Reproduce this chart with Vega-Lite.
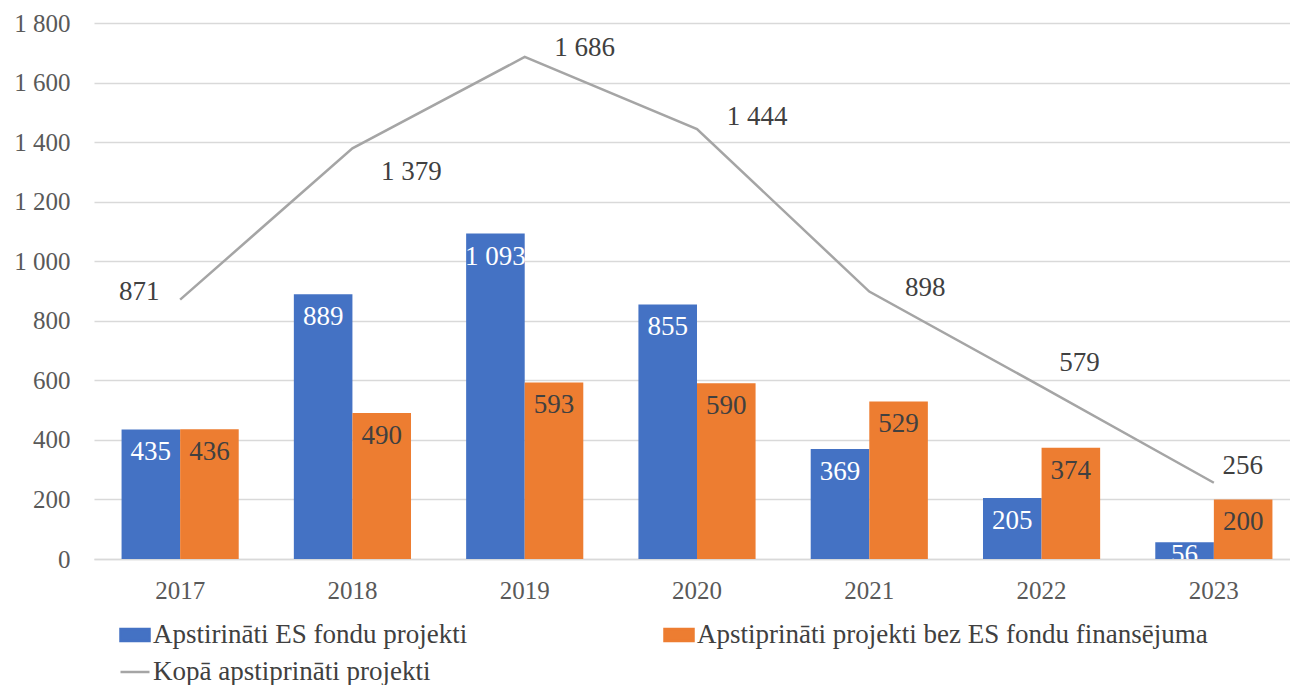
{
  "$schema": "https://vega.github.io/schema/vega-lite/v6.json",
  "width": 1196,
  "height": 536,
  "autosize": {"type": "none"},
  "padding": {"left": 94, "top": 23, "right": 0, "bottom": 126},
  "background": "white",
  "config": {
    "locale": {"number": {"decimal": ",", "thousands": " ", "grouping": [3], "currency": ["", ""]}},
    "font": "Liberation Serif",
    "view": {"stroke": null},
    "axis": {"labelFont": "Liberation Serif", "labelColor": "#595959", "labelFontSize": 25, "title": null},
    "legend": {"labelFont": "Liberation Serif", "labelFontSize": 27, "labelColor": "#404040", "labelLimit": 0}
  },
  "datasets": {
    "bars": [
      {"year": "2017", "series": "Apstirināti ES fondu projekti", "value": 435},
      {"year": "2017", "series": "Apstiprināti projekti bez ES fondu finansējuma", "value": 436},
      {"year": "2018", "series": "Apstirināti ES fondu projekti", "value": 889},
      {"year": "2018", "series": "Apstiprināti projekti bez ES fondu finansējuma", "value": 490},
      {"year": "2019", "series": "Apstirināti ES fondu projekti", "value": 1093},
      {"year": "2019", "series": "Apstiprināti projekti bez ES fondu finansējuma", "value": 593},
      {"year": "2020", "series": "Apstirināti ES fondu projekti", "value": 855},
      {"year": "2020", "series": "Apstiprināti projekti bez ES fondu finansējuma", "value": 590},
      {"year": "2021", "series": "Apstirināti ES fondu projekti", "value": 369},
      {"year": "2021", "series": "Apstiprināti projekti bez ES fondu finansējuma", "value": 529},
      {"year": "2022", "series": "Apstirināti ES fondu projekti", "value": 205},
      {"year": "2022", "series": "Apstiprināti projekti bez ES fondu finansējuma", "value": 374},
      {"year": "2023", "series": "Apstirināti ES fondu projekti", "value": 56},
      {"year": "2023", "series": "Apstiprināti projekti bez ES fondu finansējuma", "value": 200}
    ],
    "total": [
      {"year": "2017", "value": 871},
      {"year": "2018", "value": 1379},
      {"year": "2019", "value": 1686},
      {"year": "2020", "value": 1444},
      {"year": "2021", "value": 898},
      {"year": "2022", "value": 579},
      {"year": "2023", "value": 256}
    ]
  },
  "encoding": {
    "x": {
      "field": "year", "type": "nominal",
      "scale": {"paddingInner": 0.32, "paddingOuter": 0.16, "range": [0, 1206]},
      "axis": {"labelAngle": 0, "ticks": false, "domainColor": "#d9d9d9", "domainWidth": 1.5, "labelPadding": 19, "grid": false}
    },
    "y": {
      "field": "value", "type": "quantitative",
      "scale": {"domain": [0, 1800]},
      "axis": {"values": [0, 200, 400, 600, 800, 1000, 1200, 1400, 1600, 1800], "format": ",d", "domain": false, "ticks": false, "gridColor": "#d9d9d9", "gridWidth": 1.3, "labelPadding": 24}
    }
  },
  "layer": [
    {
      "data": {"name": "bars"},
      "mark": {"type": "bar"},
      "encoding": {
        "xOffset": {"field": "series", "type": "nominal", "scale": {"paddingInner": 0, "domain": ["Apstirināti ES fondu projekti", "Apstiprināti projekti bez ES fondu finansējuma"]}},
        "color": {
          "field": "series", "type": "nominal",
          "scale": {
            "domain": ["Apstirināti ES fondu projekti", "Apstiprināti projekti bez ES fondu finansējuma", "Kopā apstiprināti projekti"],
            "range": ["#4472C4", "#ED7D31", "#A5A5A5"]
          },
          "legend": {
            "orient": "none", "legendX": 25, "legendY": 596, "columns": 2, "direction": "horizontal", "columnPadding": 191, "rowPadding": 8,
            "title": null, "symbolSize": 841, "symbolStrokeWidth": 2.5, "labelOffset": 2,
            "symbolType": {"expr": "datum.value == 'Kopā apstiprināti projekti' ? 'M-1,0H1' : 'M-1,-0.41H1V0.41H-1Z'"}
          }
        }
      }
    },
    {
      "data": {"name": "bars"},
      "transform": [{"filter": "datum.series == 'Apstirināti ES fondu projekti' && datum.value >= 100"}],
      "mark": {"type": "text", "color": "white", "fontSize": 27, "baseline": "middle", "dy": 23, "clip": true},
      "encoding": {
        "xOffset": {"field": "series", "type": "nominal", "scale": {"paddingInner": 0, "domain": ["Apstirināti ES fondu projekti", "Apstiprināti projekti bez ES fondu finansējuma"]}},
        "text": {"field": "value", "type": "quantitative", "format": ",d"}
      }
    },
    {
      "data": {"name": "bars"},
      "transform": [{"filter": "datum.series == 'Apstirināti ES fondu projekti' && datum.value < 100"}],
      "mark": {"type": "text", "color": "white", "fontSize": 27, "baseline": "middle", "dy": 13, "clip": true},
      "encoding": {
        "xOffset": {"field": "series", "type": "nominal", "scale": {"paddingInner": 0, "domain": ["Apstirināti ES fondu projekti", "Apstiprināti projekti bez ES fondu finansējuma"]}},
        "text": {"field": "value", "type": "quantitative", "format": ",d"}
      }
    },
    {
      "data": {"name": "bars"},
      "transform": [{"filter": "datum.series != 'Apstirināti ES fondu projekti'"}],
      "mark": {"type": "text", "color": "#404040", "fontSize": 27, "baseline": "middle", "dy": 23, "clip": true},
      "encoding": {
        "xOffset": {"field": "series", "type": "nominal", "scale": {"paddingInner": 0, "domain": ["Apstirināti ES fondu projekti", "Apstiprināti projekti bez ES fondu finansējuma"]}},
        "text": {"field": "value", "type": "quantitative", "format": ",d"}
      }
    },
    {
      "data": {"name": "total"},
      "mark": {"type": "line", "strokeWidth": 2.5},
      "encoding": {
        "color": {"datum": "Kopā apstiprināti projekti"}
      }
    },
    {
      "data": {"name": "total"},
      "transform": [{"filter": "datum.year == '2017'"}],
      "mark": {"type": "text", "color": "#404040", "fontSize": 27, "baseline": "middle", "dx": -41, "dy": -8},
      "encoding": {"text": {"field": "value", "type": "quantitative", "format": ",d"}}
    },
    {
      "data": {"name": "total"},
      "transform": [{"filter": "datum.year == '2018'"}],
      "mark": {"type": "text", "color": "#404040", "fontSize": 27, "baseline": "middle", "dx": 59, "dy": 24},
      "encoding": {"text": {"field": "value", "type": "quantitative", "format": ",d"}}
    },
    {
      "data": {"name": "total"},
      "transform": [{"filter": "datum.year == '2019'"}],
      "mark": {"type": "text", "color": "#404040", "fontSize": 27, "baseline": "middle", "dx": 60, "dy": -9},
      "encoding": {"text": {"field": "value", "type": "quantitative", "format": ",d"}}
    },
    {
      "data": {"name": "total"},
      "transform": [{"filter": "datum.year == '2020'"}],
      "mark": {"type": "text", "color": "#404040", "fontSize": 27, "baseline": "middle", "dx": 60, "dy": -12},
      "encoding": {"text": {"field": "value", "type": "quantitative", "format": ",d"}}
    },
    {
      "data": {"name": "total"},
      "transform": [{"filter": "datum.year == '2021'"}],
      "mark": {"type": "text", "color": "#404040", "fontSize": 27, "baseline": "middle", "dx": 56, "dy": -4},
      "encoding": {"text": {"field": "value", "type": "quantitative", "format": ",d"}}
    },
    {
      "data": {"name": "total"},
      "transform": [{"filter": "datum.year == '2022'"}],
      "mark": {"type": "text", "color": "#404040", "fontSize": 27, "baseline": "middle", "dx": 38, "dy": -24},
      "encoding": {"text": {"field": "value", "type": "quantitative", "format": ",d"}}
    },
    {
      "data": {"name": "total"},
      "transform": [{"filter": "datum.year == '2023'"}],
      "mark": {"type": "text", "color": "#404040", "fontSize": 27, "baseline": "middle", "dx": 29, "dy": -17},
      "encoding": {"text": {"field": "value", "type": "quantitative", "format": ",d"}}
    }
  ]
}
